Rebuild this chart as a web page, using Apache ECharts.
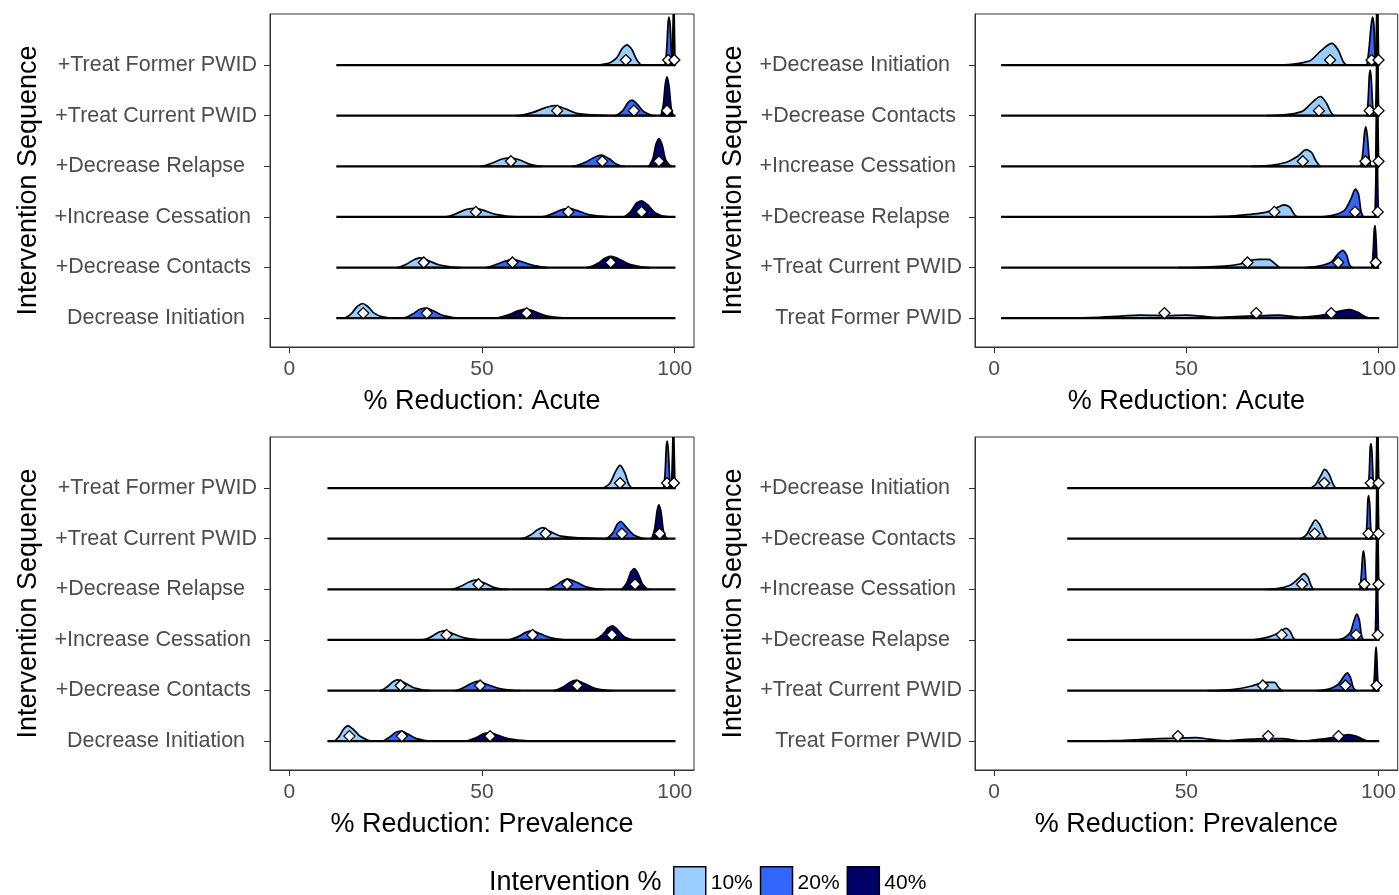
<!DOCTYPE html>
<html>
<head>
<meta charset="utf-8">
<script src="https://cdn.jsdelivr.net/npm/echarts@6/dist/echarts.min.js"></script>
<style>
  html, body { margin: 0; padding: 0; background: #fff; }
  #chart { width: 1399px; height: 895px; }
</style>
</head>
<body>
<div id="chart"></div>
<script>
// ---- data -------------------------------------------------------------
const X_TICKS = [0, 50, 100];
const LEVELS = ['10%', '20%', '40%'];

// row labels, bottom row first
const ROWS_LEFT = ['Decrease Initiation  ', '+Decrease Contacts ', '+Increase Cessation ',
                   '+Decrease Relapse  ', '+Treat Current PWID', '+Treat Former PWID'];
const ROWS_RIGHT = ['Treat Former PWID', '+Treat Current PWID', '+Decrease Relapse  ',
                    '+Increase Cessation ', '+Decrease Contacts ', '+Decrease Initiation  '];

const X_TITLES = ['% Reduction: Acute', '% Reduction: Acute',
                  '% Reduction: Prevalence', '% Reduction: Prevalence'];

// density outlines: [% reduction, ridge height in row units]
// rows bottom -> top, each row holds the 10% / 20% / 40% ridges
const acuteLeft = [
  [[[14,0],[16,0.08],[17.5,0.22],[19,0.29],[20.5,0.22],[22,0.1],[24,0.03],[27,0]],
   [[29.5,0],[32,0.08],[34,0.18],[35.5,0.2],[37.5,0.14],[40,0.05],[44.5,0]],
   [[53.5,0],[57,0.07],[59.5,0.15],[61.5,0.18],[64,0.12],[67,0.04],[73,0]]],
  [[[28,0],[30.5,0.07],[32.5,0.16],[34,0.19],[36,0.14],[39,0.05],[44.5,0]],
   [[51,0],[54,0.07],[56.5,0.14],[58,0.16],[60.5,0.11],[63.5,0.04],[67,0]],
   [[77,0],[80,0.08],[82,0.19],[83.5,0.22],[85.5,0.17],[88.5,0.06],[93.5,0]]],
  [[[40.5,0],[43.5,0.07],[46,0.15],[48,0.17],[50,0.14],[53.5,0.05],[59,0]],
   [[65.5,0],[68.5,0.07],[71,0.15],[72.5,0.17],[74.5,0.13],[78,0.04],[84.5,0]],
   [[86.5,0],[88.5,0.1],[90.2,0.28],[91.4,0.32],[92.8,0.25],[95,0.08],[97.5,0.01],[99.5,0]]],
  [[[49.5,0],[52.5,0.06],[55.5,0.15],[57.5,0.17],[60,0.12],[62.5,0.04],[65.5,0]],
   [[73.5,0],[76.5,0.07],[79.5,0.19],[81,0.22],[83,0.15],[85,0.04],[87,0]],
   [[93,0],[94.3,0.15],[95.2,0.45],[95.9,0.55],[96.7,0.43],[97.7,0.12],[99.3,0]]],
  [[[59,0],[63,0.06],[66.5,0.16],[69,0.2],[71.5,0.14],[75,0.04],[80,0.01],[85,0]],
   [[84.5,0],[86.5,0.1],[88,0.27],[88.9,0.31],[90,0.25],[92,0.08],[95,0]],
   [[96.2,0],[97,0.2],[97.6,0.65],[98,0.77],[98.5,0.6],[99.1,0.15],[99.8,0]]],
  [[[79,0],[82.5,0.03],[85,0.15],[86.5,0.34],[87.6,0.4],[88.8,0.32],[90.2,0.1],[91.5,0]],
   [[97.4,0],[97.9,0.3],[98.3,0.85],[98.5,0.95],[98.8,0.8],[99.2,0.2],[99.6,0]],
   [[99.2,0],[99.5,0.6],[99.75,1.3],[99.95,0.6],[100.1,0]]]
];
const acuteLeftMedians = [[19.2,35.7,61.6],[34.9,57.9,83.4],[48.4,72.4,91.4],
                          [57.5,81.2,95.9],[69.5,89.4,98.0],[87.3,98.3,99.9]];
const acuteLeftSpan = [12.2, 100.2];

const acuteRight = [
  [[[17,0],[25,0.01],[33,0.04],[38,0.06],[45,0.05],[50,0.06],[54,0.04],[58,0.01],[62,0]],
   [[52,0],[60,0.02],[66,0.04],[70,0.05],[74,0.06],[77,0.04],[80,0.01],[83,0]],
   [[76,0],[82,0.03],[87,0.08],[90,0.14],[92.5,0.17],[94.5,0.12],[96.5,0.03],[98,0]]],
  [[[48,0],[55,0.01],[60,0.03],[64,0.07],[66.5,0.14],[69,0.16],[71.5,0.16],[73,0.08],[74.5,0]],
   [[81,0],[84.5,0.03],[87.5,0.1],[89.5,0.27],[90.7,0.34],[91.7,0.25],[92.5,0.05],[93.3,0]],
   [[98.2,0],[98.6,0.3],[98.9,0.75],[99.1,0.83],[99.35,0.6],[99.6,0.15],[99.9,0]]],
  [[[53,0],[60,0.01],[65,0.04],[69,0.07],[72,0.12],[74,0.2],[75.5,0.24],[76.8,0.2],[78.3,0.03],[79,0]],
   [[84.5,0],[88,0.03],[91,0.12],[92.8,0.35],[94,0.55],[94.8,0.45],[95.5,0.1],[96.2,0]],
   [[99,0],[99.3,0.7],[99.55,2.4],[99.8,0.7],[100,0]]],
  [[[67,0],[72,0.02],[76,0.08],[79,0.2],[81.2,0.33],[82.5,0.28],[83.8,0.1],[85,0]],
   [[95.3,0],[95.9,0.25],[96.4,0.68],[96.7,0.78],[97.1,0.6],[97.6,0.15],[98.1,0]],
   [[99.2,0],[99.45,0.7],[99.7,2.4],[99.9,0.7],[100.1,0]]],
  [[[71,0],[76,0.02],[80,0.08],[83,0.28],[84.9,0.38],[86.3,0.27],[87.8,0.05],[88.5,0]],
   [[96.9,0],[97.3,0.3],[97.65,0.82],[97.85,0.9],[98.1,0.75],[98.5,0.2],[98.9,0]],
   [[99.2,0],[99.45,0.7],[99.7,2.4],[99.9,0.7],[100.1,0]]],
  [[[73.5,0],[78,0.02],[82,0.08],[85,0.28],[87.9,0.43],[89.5,0.3],[91,0.05],[91.8,0]],
   [[96.9,0],[97.5,0.3],[98.2,0.85],[98.5,0.95],[98.8,0.8],[99.1,0.2],[99.4,0]],
   [[99.2,0],[99.45,0.7],[99.7,1.6],[99.9,0.7],[100.1,0]]]
];
const acuteRightMedians = [[44.3,68.2,87.7],[65.9,89.5,99.3],[72.9,93.9,99.8],
                           [80.3,96.6,100],[84.5,97.7,100],[87.4,98.2,100]];
const acuteRightSpan = [1.8, 100.2];

const prevLeft = [
  [[[11.5,0],[13,0.1],[14.2,0.25],[15.2,0.3],[16.5,0.24],[18.5,0.09],[21.5,0]],
   [[24,0],[26,0.08],[27.8,0.18],[29,0.2],[30.8,0.14],[33,0.05],[37,0]],
   [[45.5,0],[48.5,0.07],[50.5,0.15],[52,0.17],[54,0.12],[57.5,0.04],[64,0]]],
  [[[23.5,0],[25.5,0.08],[27,0.18],[28.2,0.21],[30,0.15],[32.5,0.05],[36.5,0]],
   [[43,0],[45.5,0.07],[47.5,0.15],[48.8,0.18],[51,0.13],[54.5,0.04],[60,0]],
   [[68.5,0],[71,0.07],[73,0.17],[74.3,0.2],[76.5,0.14],[79.5,0.04],[84,0]]],
  [[[34.5,0],[37,0.07],[39,0.16],[40.3,0.18],[42.5,0.12],[45.5,0.04],[50,0]],
   [[56.5,0],[59.5,0.07],[61.7,0.16],[63,0.18],[65.2,0.12],[68,0.04],[72,0]],
   [[79,0],[81.2,0.1],[82.8,0.24],[83.8,0.28],[85.2,0.2],[87,0.06],[89.5,0]]],
  [[[42,0],[44.5,0.06],[46.8,0.15],[48.3,0.18],[50.5,0.13],[53,0.04],[56.5,0]],
   [[66.5,0],[69,0.07],[71,0.17],[72.2,0.2],[74.5,0.14],[77.5,0.04],[81.5,0]],
   [[86,0],[87.5,0.12],[88.7,0.35],[89.5,0.41],[90.4,0.32],[91.7,0.1],[93.3,0]]],
  [[[60,0],[62.5,0.07],[64.5,0.18],[65.7,0.22],[67.5,0.15],[70.5,0.05],[75,0.015],[83,0]],
   [[82,0],[84,0.12],[85.2,0.3],[86,0.34],[87.2,0.25],[89.5,0.07],[92.5,0]],
   [[93.8,0],[94.8,0.2],[95.5,0.58],[95.9,0.67],[96.4,0.55],[97.1,0.15],[98.1,0]]],
  [[[81,0],[83,0.08],[84.8,0.35],[85.8,0.45],[86.9,0.33],[88.2,0.06],[89,0]],
   [[97.1,0],[97.5,0.3],[97.85,0.85],[98.05,0.93],[98.3,0.78],[98.7,0.2],[99.1,0]],
   [[99.1,0],[99.4,0.6],[99.65,1.3],[99.9,0.6],[100.1,0]]]
];
const prevLeftMedians = [[15.6,29.2,52.1],[28.9,49.5,74.7],[40.8,63.1,83.7],
                         [49.1,72.1,89.7],[66.5,86.3,96.1],[85.8,98.0,99.8]];
const prevLeftSpan = [9.9, 100.2];

const prevRight = [
  [[[25,0],[32,0.01],[38,0.03],[43,0.05],[48,0.06],[52.5,0.07],[56,0.04],[60,0.01],[63,0]],
   [[58,0],[63,0.02],[67,0.04],[71,0.05],[75,0.05],[78,0.02],[81,0]],
   [[80,0],[84,0.03],[88,0.07],[90.5,0.11],[92.3,0.13],[94.5,0.09],[96.5,0.02],[97.5,0]]],
  [[[55.5,0],[60,0.01],[64,0.04],[67,0.09],[69,0.14],[71,0.16],[73,0.16],[74,0.06],[75,0]],
   [[84,0],[87,0.03],[89.5,0.12],[91,0.28],[91.9,0.35],[92.7,0.26],[93.5,0.05],[94.2,0]],
   [[98.6,0],[98.95,0.3],[99.25,0.78],[99.4,0.86],[99.6,0.6],[99.85,0.15],[100.1,0]]],
  [[[66,0],[69,0.02],[71.5,0.06],[73.5,0.12],[75,0.2],[76,0.23],[77,0.17],[78,0.02],[78.5,0]],
   [[89,0],[91,0.04],[92.7,0.15],[93.7,0.4],[94.4,0.51],[95,0.4],[95.6,0.08],[96.2,0]],
   [[99.1,0],[99.35,0.7],[99.6,2.4],[99.85,0.7],[100.1,0]]],
  [[[70.5,0],[74,0.02],[77,0.08],[79.3,0.22],[80.6,0.31],[81.6,0.25],[82.6,0.05],[83.2,0]],
   [[95.1,0],[95.5,0.25],[95.9,0.68],[96.1,0.76],[96.4,0.6],[96.8,0.15],[97.2,0]],
   [[99.3,0],[99.5,0.7],[99.75,2.4],[99.95,0.7],[100.15,0]]],
  [[[79.5,0],[81,0.06],[82.5,0.25],[83.6,0.37],[84.7,0.28],[86,0.06],[86.8,0]],
   [[96.6,0],[97,0.3],[97.25,0.78],[97.45,0.85],[97.7,0.7],[98,0.2],[98.4,0]],
   [[99.3,0],[99.5,0.7],[99.75,2.4],[99.95,0.7],[100.15,0]]],
  [[[82,0],[83.5,0.06],[85,0.25],[86,0.37],[87.1,0.28],[88.3,0.06],[89,0]],
   [[97.3,0],[97.6,0.3],[97.85,0.8],[98.05,0.88],[98.3,0.72],[98.6,0.2],[98.9,0]],
   [[99.3,0],[99.5,0.7],[99.75,1.6],[99.95,0.7],[100.15,0]]]
];
const prevRightMedians = [[47.8,71.3,89.6],[69.9,91.4,99.5],[74.8,94.2,99.8],
                          [80.1,96.3,100],[83.4,97.4,100],[85.9,98.0,100]];
const prevRightSpan = [19, 100.2];

// ---- styling ---------------------------------------------------------
const FONT = '"Liberation Sans", Arial, Helvetica, sans-serif';
const LEVEL_COLORS = ['#99CCFF', '#3366FF', '#000066'];
const AXIS_GRAY = '#333333';
const LABEL_GRAY = '#4d4d4d';

const panels = [
  { ridges: acuteLeft,  medians: acuteLeftMedians,  span: acuteLeftSpan,  rows: ROWS_LEFT,  title: X_TITLES[0] },
  { ridges: acuteRight, medians: acuteRightMedians, span: acuteRightSpan, rows: ROWS_RIGHT, title: X_TITLES[1] },
  { ridges: prevLeft,   medians: prevLeftMedians,   span: prevLeftSpan,   rows: ROWS_LEFT,  title: X_TITLES[2] },
  { ridges: prevRight,  medians: prevRightMedians,  span: prevRightSpan,  rows: ROWS_RIGHT, title: X_TITLES[3] }
];
const gridBoxes = [
  { left: 270, top: 14,  width: 424,   height: 333 },
  { left: 975, top: 14,  width: 423.5, height: 333 },
  { left: 270, top: 437, width: 424,   height: 333 },
  { left: 975, top: 437, width: 423.5, height: 333 }
];

// smooth outline through pixel points (monotone cubic, flat at both feet)
function outlinePath(P) {
  const n = P.length;
  const dx = [], m = [];
  for (let i = 0; i < n - 1; i++) {
    dx[i] = P[i + 1][0] - P[i][0];
    m[i] = dx[i] === 0 ? 0 : (P[i + 1][1] - P[i][1]) / dx[i];
  }
  const t = new Array(n).fill(0);
  for (let i = 1; i < n - 1; i++) {
    if (m[i - 1] * m[i] <= 0) t[i] = 0;
    else t[i] = 3 * (dx[i - 1] + dx[i]) /
      ((2 * dx[i] + dx[i - 1]) / m[i - 1] + (dx[i] + 2 * dx[i - 1]) / m[i]);
  }
  let d = 'M' + P[0][0] + ',' + P[0][1];
  for (let i = 0; i < n - 1; i++) {
    const h = dx[i] / 3;
    d += ' C' + (P[i][0] + h) + ',' + (P[i][1] + t[i] * h) + ' ' +
         (P[i + 1][0] - h) + ',' + (P[i + 1][1] - t[i + 1] * h) + ' ' +
         P[i + 1][0] + ',' + P[i + 1][1];
  }
  d += ' L' + P[0][0] + ',' + P[0][1] + ' Z';
  return d;
}

const grid = [], xAxis = [], yAxis = [], series = [];
const rowTicks = [1, 2, 3, 4, 5, 6];

panels.forEach((pn, pi) => {
  grid.push(Object.assign({ show: true, borderColor: AXIS_GRAY, borderWidth: 1, backgroundColor: 'transparent' }, gridBoxes[pi]));
  xAxis.push({
    gridIndex: pi, type: 'value', min: -5, max: 105,
    name: pn.title, nameLocation: 'middle', nameGap: 41,
    nameTextStyle: { fontSize: 27, color: '#000', fontFamily: FONT },
    axisLine: { show: true, onZero: false, lineStyle: { color: AXIS_GRAY, width: 1 } },
    axisTick: { show: true, length: 6, customValues: X_TICKS, lineStyle: { color: AXIS_GRAY } },
    axisLabel: { customValues: X_TICKS, fontSize: 21, color: LABEL_GRAY, fontFamily: FONT, margin: 12 },
    splitLine: { show: false }
  });
  yAxis.push({
    gridIndex: pi, type: 'value', min: 0.43, max: 7.01,
    name: 'Intervention Sequence', nameLocation: 'middle', nameGap: 228,
    nameTextStyle: { fontSize: 27, color: '#000', fontFamily: FONT },
    axisLine: { show: true, onZero: false, lineStyle: { color: AXIS_GRAY, width: 1 } },
    axisTick: { show: true, length: 6, customValues: rowTicks, lineStyle: { color: AXIS_GRAY } },
    axisLabel: {
      customValues: rowTicks, fontSize: 21.5, color: LABEL_GRAY, fontFamily: FONT, margin: 13,
      formatter: (v) => pn.rows[Math.round(v) - 1] || ''
    },
    splitLine: { show: false }
  });

  // one series per intervention level; rows listed top first so lower ridges overlap upper ones
  LEVELS.forEach((lvl, li) => {
    const items = [];
    for (let r = pn.ridges.length - 1; r >= 0; r--) items.push({ row: r + 1, pts: pn.ridges[r][li] });
    series.push({
      type: 'custom', name: lvl, xAxisIndex: pi, yAxisIndex: pi, clip: true, z: 2, silent: true,
      itemStyle: { color: LEVEL_COLORS[li] },
      data: items.map(it => [it.pts[0][0], it.row]),
      renderItem: (params, api) => {
        const it = items[params.dataIndex];
        const P = it.pts.map(p => api.coord([p[0], it.row + p[1]]));
        return {
          type: 'path',
          shape: { pathData: outlinePath(P) },
          style: { fill: LEVEL_COLORS[li], stroke: '#000', lineWidth: 1.7, lineJoin: 'round' }
        };
      }
    });
  });

  // ridge baselines across the full density range
  series.push({
    type: 'custom', xAxisIndex: pi, yAxisIndex: pi, clip: true, z: 3, silent: true,
    data: pn.ridges.map((_, r) => [pn.span[0], r + 1, pn.span[1]]),
    renderItem: (params, api) => {
      const a = api.coord([api.value(0), api.value(1)]);
      const b = api.coord([api.value(2), api.value(1)]);
      return { type: 'line', shape: { x1: a[0], y1: a[1], x2: b[0], y2: b[1] },
               style: { stroke: '#000', lineWidth: 2.2 } };
    }
  });

  // medians as open diamonds
  const pts = [];
  pn.medians.forEach((row, r) => row.forEach(v => pts.push([v, r + 1 + 0.1])));
  series.push({
    type: 'scatter', xAxisIndex: pi, yAxisIndex: pi, z: 4, silent: true,
    symbol: 'diamond', symbolSize: 11,
    itemStyle: { color: '#fff', borderColor: '#000', borderWidth: 1.3, opacity: 1 },
    data: pts
  });
});

const chart = echarts.init(document.getElementById('chart'), null, { renderer: 'canvas' });
chart.setOption({
  animation: false,
  backgroundColor: '#fff',
  textStyle: { fontFamily: FONT },
  title: {
    text: 'Intervention %', left: 489, top: 869, padding: 0,
    textStyle: { fontSize: 27, fontWeight: 'normal', color: '#000', fontFamily: FONT }
  },
  legend: {
    left: 673, top: 866, padding: 0, itemWidth: 32, itemHeight: 32, itemGap: 7,
    icon: 'rect', selectedMode: false,
    textStyle: { fontSize: 21, color: '#000', fontFamily: FONT },
    data: LEVELS.map((l, i) => ({ name: l, itemStyle: { color: LEVEL_COLORS[i], borderColor: '#000', borderWidth: 1.5 } }))
  },
  grid, xAxis, yAxis, series
});
</script>
</body>
</html>
